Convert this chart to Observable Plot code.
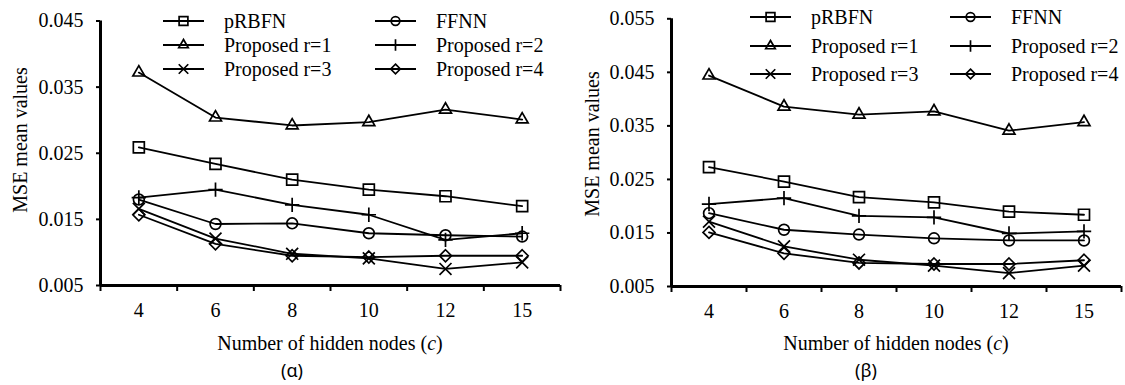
<!DOCTYPE html>
<html><head><meta charset="utf-8">
<script src="https://cdn.jsdelivr.net/npm/d3@7"></script>
<script src="https://cdn.jsdelivr.net/npm/@observablehq/plot@0.6"></script>
<style>
body{margin:0;background:#fff;}
#wrap{position:relative;width:1125px;height:385px;overflow:hidden;background:#fff;font-family:"Liberation Serif","Times New Roman",serif;color:#000;}
.abs{position:absolute;white-space:nowrap;}
.xt{font-size:20px;transform:translate(-50%,-50%);}
.yt{font-size:20px;transform:translate(-50%,-50%) rotate(-90deg);}
.cap{font-family:"Noto Sans",sans-serif !important;font-size:18px;transform:translate(-50%,-50%);}
#wrap svg, #wrap svg text{font-family:"Liberation Serif","Times New Roman",serif !important;}
svg{overflow:visible;}
</style></head>
<body><div id="wrap"></div>
<script>
// ---------- data ----------
const nodes = ["4", "6", "8", "10", "12", "15"];
const seriesNames = ["pRBFN", "FFNN", "Proposed r=1", "Proposed r=2", "Proposed r=3", "Proposed r=4"];
const yTicksAlpha = [0.005, 0.015, 0.025, 0.035, 0.045];
const yTicksBeta = [0.005, 0.015, 0.025, 0.035, 0.045, 0.055];

// panel (α)
const alpha_pRBFN = [0.0259, 0.0234, 0.0210, 0.0195, 0.0185, 0.0170];
const alpha_FFNN  = [0.0180, 0.0143, 0.0144, 0.0129, 0.0126, 0.0124];
const alpha_r1    = [0.0372, 0.0304, 0.0292, 0.0297, 0.0316, 0.0301];
const alpha_r2    = [0.0183, 0.0195, 0.0172, 0.0157, 0.0119, 0.0129];
const alpha_r3    = [0.0166, 0.0121, 0.0098, 0.0091, 0.0075, 0.0085];
const alpha_r4    = [0.0157, 0.0113, 0.0095, 0.0093, 0.0095, 0.0095];

// panel (β)
const beta_pRBFN = [0.0273, 0.0246, 0.0217, 0.0207, 0.0190, 0.0184];
const beta_FFNN  = [0.0187, 0.0156, 0.0147, 0.0140, 0.0136, 0.0136];
const beta_r1    = [0.0444, 0.0386, 0.0371, 0.0377, 0.0341, 0.0357];
const beta_r2    = [0.0204, 0.0215, 0.0182, 0.0179, 0.0149, 0.0153];
const beta_r3    = [0.0171, 0.0125, 0.0100, 0.0089, 0.0075, 0.0089];
const beta_r4    = [0.0151, 0.0112, 0.0094, 0.0092, 0.0092, 0.0099];

// ---------- styles ----------
const FONT = "Liberation Serif";
const symbolName = {"pRBFN": "square", "FFNN": "circle", "Proposed r=1": "triangle2", "Proposed r=2": "plus", "Proposed r=3": "times", "Proposed r=4": "diamond2"};
const symbolD3 = {"pRBFN": d3.symbolSquare, "FFNN": d3.symbolCircle, "Proposed r=1": d3.symbolTriangle2, "Proposed r=2": d3.symbolPlus, "Proposed r=3": d3.symbolTimes, "Proposed r=4": d3.symbolDiamond2};
const symbolR = {"pRBFN": 6.2, "FFNN": 5.4, "Proposed r=1": 5.7, "Proposed r=2": 4.7, "Proposed r=3": 5.5, "Proposed r=4": 5.4};

function table(lists) {
  const rows = [];
  seriesNames.forEach((s, k) => lists[k].forEach((v, i) => rows.push({series: s, node: nodes[i], xi: i + 0.5, v})));
  return rows;
}

function panel(lists, yTicks, o) {
  const rows = table(lists);
  const marks = [
    Plot.ruleY([yTicks[0]], {strokeWidth: 3}),
    Plot.ruleX([0], {y1: yTicks[0], y2: yTicks[yTicks.length - 1], strokeWidth: 3}),
    Plot.axisY({ticks: yTicks, tickFormat: d3.format(".3f"), tickSize: 4, tickPadding: 13, strokeWidth: 2, label: null, fontSize: 20, fontFamily: FONT}),
    Plot.axisX({ticks: d3.range(nodes.length + 1), tickFormat: () => "", tickSize: 6, strokeWidth: 2, label: null}),
    Plot.axisX({ticks: nodes.map((_, i) => i + 0.5), tickFormat: d => nodes[Math.round(d - 0.5)], tickSize: 0, tickPadding: 17, label: null, fontSize: 20, fontFamily: FONT}),
    Plot.line(rows, {x: "xi", y: "v", z: "series", stroke: "black", strokeWidth: 1.8})
  ];
  for (const s of seriesNames) {
    marks.push(Plot.dot(rows.filter(d => d.series === s), {x: "xi", y: "v", symbol: symbolName[s], r: symbolR[s], stroke: "black", fill: "none", strokeWidth: 1.7}));
  }
  const svg = Plot.plot({
    width: o.width, height: 330,
    marginLeft: o.ml, marginRight: o.mr, marginTop: o.mt, marginBottom: o.mb,
    style: {fontFamily: FONT + ", serif", fontSize: "20px", background: "transparent", color: "black"},
    x: {type: "linear", domain: [0, nodes.length]},
    y: {domain: [yTicks[0], yTicks[yTicks.length - 1]]},
    marks
  });
  // legend
  const g = d3.select(svg).append("g").attr("text-anchor", "start");
  seriesNames.forEach((s, k) => {
    const col = k % 2, row = Math.floor(k / 2);
    const lx = o.legCols[col], ly = o.legRows[row];
    g.append("line").attr("x1", lx).attr("x2", lx + 41).attr("y1", ly).attr("y2", ly).attr("stroke", "black").attr("stroke-width", 1.8);
    const rr = symbolR[s] * 0.8;
    g.append("path").attr("d", d3.symbol(symbolD3[s], Math.PI * rr * rr)()).attr("transform", `translate(${lx + 20.5},${ly})`)
      .attr("fill", "none").attr("stroke", "black").attr("stroke-width", 1.7);
    g.append("text").attr("x", lx + 61).attr("y", ly).attr("dy", "0.35em").attr("text-anchor", "start").attr("font-size", 20).attr("fill", "black").text(s);
  });
  svg.style.position = "absolute";
  svg.style.left = o.left + "px";
  svg.style.top = "0px";
  return svg;
}

const wrap = document.getElementById("wrap");
wrap.appendChild(panel([alpha_pRBFN, alpha_FFNN, alpha_r1, alpha_r2, alpha_r3, alpha_r4], yTicksAlpha,
  {left: 0, width: 563, ml: 100, mr: 3, mt: 20.5, mb: 45, legCols: [163, 375], legRows: [21, 45, 69]}));
wrap.appendChild(panel([beta_pRBFN, beta_FFNN, beta_r1, beta_r2, beta_r3, beta_r4], yTicksBeta,
  {left: 560, width: 565, ml: 111, mr: 4, mt: 18.3, mb: 44, legCols: [190, 390], legRows: [17, 46, 74]}));

function addText(cls, x, y, html) {
  const d = document.createElement("div");
  d.className = "abs " + cls;
  d.style.left = x + "px"; d.style.top = y + "px";
  d.innerHTML = html;
  wrap.appendChild(d);
}
addText("xt", 330, 343, "Number of hidden nodes (<i>c</i>)");
addText("xt", 896, 343, "Number of hidden nodes (<i>c</i>)");
addText("yt", 20, 140, "MSE mean values");
addText("yt", 592, 144, "MSE mean values");
addText("cap", 292, 370, "(α)");
addText("cap", 866, 370, "(β)");
</script>
</body></html>
